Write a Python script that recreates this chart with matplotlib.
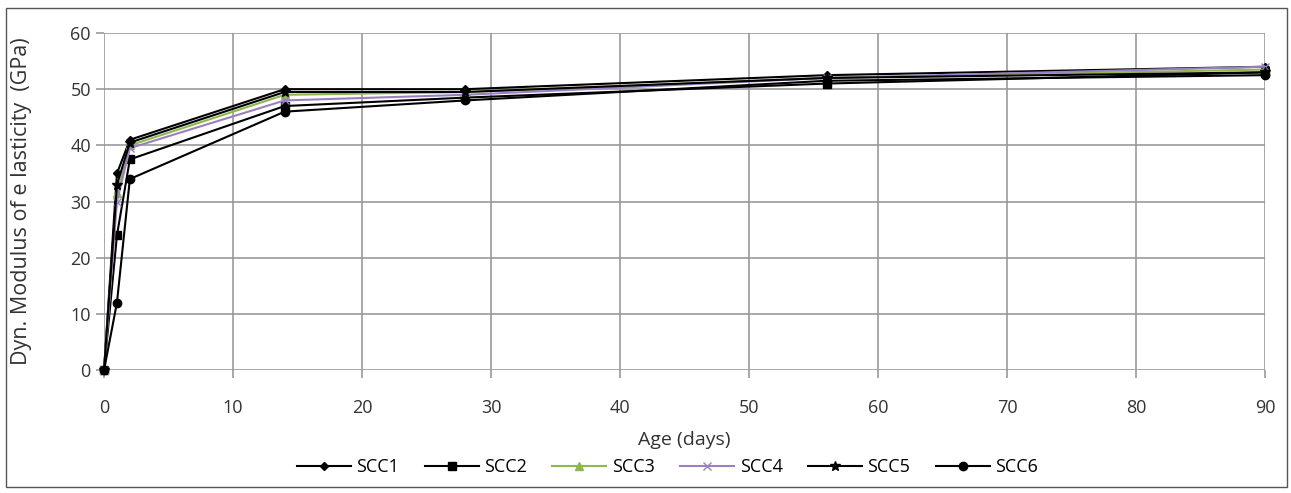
import numpy as np
import matplotlib.pyplot as plt
from matplotlib.patches import Rectangle

############ Data ############

age = [0, 1, 2, 14, 28, 56, 90]

scc1 = [0, 35.0, 41.0, 50.0, 50.0, 52.5, 54.0]
scc2 = [0, 24.0, 37.5, 47.0, 48.5, 51.0, 53.0]
scc3 = [0, 31.5, 40.0, 49.0, 49.5, 52.0, 53.5]
scc4 = [0, 30.0, 39.5, 48.0, 49.0, 52.0, 54.0]
scc5 = [0, 33.0, 40.5, 49.5, 49.5, 52.0, 53.0]
scc6 = [0, 12.0, 34.0, 46.0, 48.0, 51.5, 52.5]

labels = ['SCC1', 'SCC2', 'SCC3', 'SCC4', 'SCC5', 'SCC6']
series = [scc1, scc2, scc3, scc4, scc5, scc6]

# line colour, marker, marker size
styles = [('black', 'D', 4),
          ('black', 's', 6),
          ('#8db84a', '^', 6),
          ('#9a80c0', 'x', 6),
          ('black', '*', 7),
          ('black', 'o', 6)]

############ Plot ############

plt.rcParams['font.family'] = ['Open Sans', 'DejaVu Sans']

fig = plt.figure(figsize=(12.91, 4.93), dpi=100)
ax = fig.add_axes([0.0806, 0.2495, 0.8994, 0.6835])

for vals, lab, (col, mk, ms) in zip(series, labels, styles):
    ax.plot(age, vals, color=col, marker=mk, markersize=ms, linewidth=1.5,
            markeredgecolor=col, markerfacecolor=col, label=lab, clip_on=False)

ax.set_xlim(0, 90)
ax.set_ylim(0, 60)
ax.set_xticks(np.arange(0, 91, 10))
ax.set_yticks(np.arange(0, 61, 10))
ax.grid(True, color='#999999', linewidth=1.2)
ax.set_axisbelow(True)
for s in ax.spines.values():
    s.set_visible(False)
ax.tick_params(axis='both', colors='#999999', labelcolor='#333333',
               labelsize=13, length=6, width=1.2)
ax.tick_params(axis='x', pad=15)

ax.set_xlabel('Age (days)', fontsize=14, color='#333333', labelpad=10)
ax.set_ylabel('Dyn. Modulus of e lasticity  (GPa)', fontsize=15.5,
              color='#333333')
ax.yaxis.set_label_coords(-0.062, 0.5)

fig.legend(loc='center', bbox_to_anchor=(0.517, 0.053), ncol=6,
           frameon=False, fontsize=13, handlelength=3.0,
           columnspacing=1.4, handletextpad=0.3)

# outer frame
fig.patches.append(Rectangle((0.005, 0.012), 0.992, 0.972, transform=fig.transFigure,
                             fill=False, edgecolor='#555555', linewidth=1.0))

plt.savefig('out.png', dpi=100)
